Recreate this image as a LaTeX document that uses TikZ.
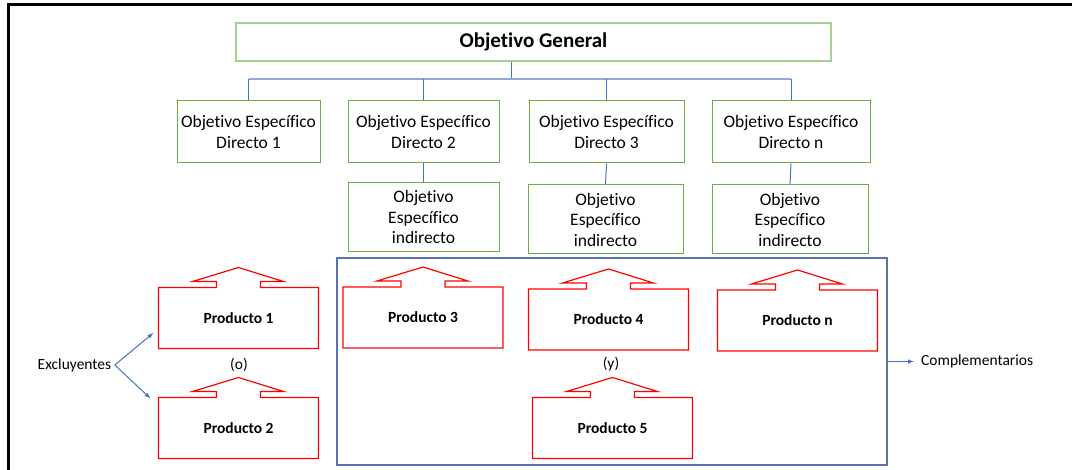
\documentclass[tikz,border=0pt]{standalone}
\usepackage{fontspec}
\setmainfont[Ligatures={NoCommon}]{Carlito}
\usepackage{tikz}

\definecolor{verde}{HTML}{70AD47}
\definecolor{verdeclaro}{HTML}{A9D18E}
\definecolor{azul}{HTML}{4472C4}
\definecolor{azulclaro}{HTML}{8FAADC}
\definecolor{azulgris}{HTML}{5B72A8}

\tikzset{
  objgen/.style={draw=verdeclaro, line width=2pt, minimum width=595, minimum height=38,
    inner sep=0, font=\fontsize{21}{25}\selectfont\bfseries},
  objdir/.style={draw=verde, line width=1pt, minimum height=62, inner sep=0, align=center,
    font=\fontsize{17.5}{21}\selectfont},
  objind/.style={draw=verde, line width=1pt, minimum height=69, inner sep=0, align=center,
    font=\fontsize{17.5}{20.5}\selectfont},
  producto/.style={minimum width=160, minimum height=61, inner sep=0,
    font=\fontsize{15.5}{18}\selectfont\bfseries},
  etiqueta/.style={font=\fontsize{15.5}{18}\selectfont},
  rama/.style={azul, line width=1pt},
  flecha/.style={azul, line width=1pt, -latex},
  prodforma/.pic={
    \draw[red, line width=1.2pt] (-22,-30.5) -- (-80,-30.5) -- (-80,30.5) -- (80,30.5)
      -- (80,-30.5) -- (22,-30.5) -- (22,-36.5) -- (45,-36.5) -- (0,-50.5)
      -- (-46,-36.5) -- (-22,-36.5) -- cycle;
  }
}

\begin{document}
\begin{tikzpicture}[x=1pt, y=-1pt]
  \useasboundingbox (0,0) rectangle (1072,470);

  % Marco
  \draw[black, line width=2.5pt] (8.5,470) -- (8.5,4.5) -- (1072,4.5);

  % Objetivo general
  \node[objgen] (gen) at (533.5,42) {Objetivo General};

  % Objetivos especificos directos
  \node[objdir, minimum width=143] (d1) at (248.5,132) {Objetivo Específico\\Directo 1};
  \node[objdir, minimum width=151] (d2) at (423.5,132) {Objetivo Específico\\Directo 2};
  \node[objdir, minimum width=155] (d3) at (606.5,132) {Objetivo Específico\\Directo 3};
  \node[objdir, minimum width=158] (dn) at (791,132) {Objetivo Específico\\Directo n};

  % Objetivos especificos indirectos
  \node[objind, minimum width=151] (i2) at (423.5,217) {Objetivo\\Específico\\indirecto};
  \node[objind, minimum width=155] (i3) at (605.5,219.5) {Objetivo\\Específico\\indirecto};
  \node[objind, minimum width=156] (in) at (790,219.5) {Objetivo\\Específico\\indirecto};

  % Ramas
  \coordinate (bus) at (511,79);
  \draw[rama] ([xshift=-22.5pt]gen.south) -- (bus);
  \draw[azulclaro, line width=2pt] (d1.north |- bus) -- (dn.north |- bus);
  \draw[rama] (d1.north |- bus) -- (d1.north);
  \draw[rama] (d2.north |- bus) -- (d2.north);
  \draw[rama] (d3.north |- bus) -- (d3.north);
  \draw[rama] (dn.north |- bus) -- (dn.north);
  \draw[rama] (d2.south) -- (i2.north);
  \draw[rama] (d3.south) -- (i3.north);
  \draw[rama] (dn.south) -- (in.north);

  % Productos complementarios
  \node[draw=azulgris, line width=1.2pt, minimum width=550, minimum height=207, inner sep=0]
    (grupo) at (612,361.5) {};

  % Productos
  \node[producto] (p1) at (238.5,318) {Producto 1};
  \node[producto] (p2) at (238.5,428) {Producto 2};
  \node[producto] (p3) at (423,317.5) {Producto 3};
  \node[producto] (p4) at (608.5,319.5) {Producto 4};
  \node[producto] (p5) at (612.5,428) {Producto 5};
  \node[producto] (pn) at (797.5,320.5) {Producto n};
  \pic at (p1) {prodforma};
  \pic at (p2) {prodforma};
  \pic at (p3) {prodforma};
  \pic at (p4) {prodforma};
  \pic at (p5) {prodforma};
  \pic at (pn) {prodforma};

  \node[etiqueta] (o) at (239,365) {(o)};
  \node[etiqueta] (y) at (611,364) {(y)};

  % Excluyentes y complementarios
  \node[etiqueta] (excl) at (74.5,365) {Excluyentes};
  \draw[flecha] (excl.east) -- ([shift={(-5,15)}]p1.west);
  \draw[flecha] (excl.east) -- ([shift={(-8,1)}]p2.north west);

  \node[etiqueta, anchor=west, inner sep=0] (comp) at (921,361.5) {Complementarios};
  \draw[flecha] (grupo.east) -- ([xshift=-7pt]comp.west);
\end{tikzpicture}
\end{document}
